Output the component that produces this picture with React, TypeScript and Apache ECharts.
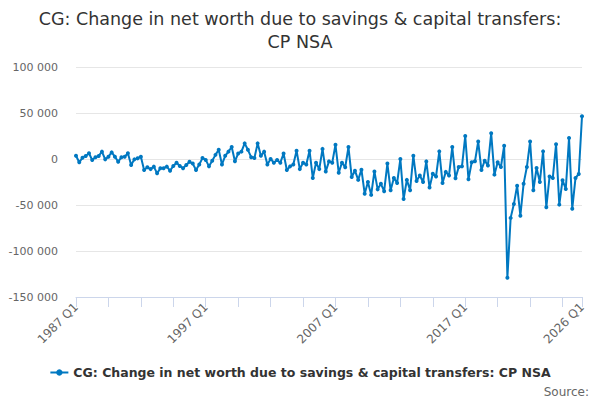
import { useEffect, useRef } from 'react';
import * as echarts from 'echarts';

/* ───── Data (quarterly, £ million) ───── */
const firstYear = 1987;
const lastYear = 2026;

const values1987to1996 = [
  3600, -3600, 1400, 3300, 6200, -1100, 1800, 3300, 8000, -400,
  2500, 7200, 2500, -2900, 1800, 2500, 6200, -6500, -400, 700,
  2500, -12000, -9000, -11000, -8300, -15600, -10000, -10000, -8300, -12700,
  -7600, -4000, -7600, -10000, -6500, -3000, -5000, -12000, -6000, 1000,
];
const values1997to2006 = [
  -1000, -8000, -2000, 4500, 10000, -6000, 3500, 8000, 13000, -2500,
  6000, 8000, 17000, 10000, 2000, 1000, 17000, 3500, 8000, -6000,
  0, -4000, -1000, -4000, 6000, -12000, -8000, -6000, 9000, -11000,
  -4000, -6000, 9000, -20600, -4000, -11000, 11000, -13500, -2600, -4000,
];
const values2007to2016 = [
  15500, -15000, -4000, -9000, 13000, -19600, -12700, -22700, -11600, -37700,
  -25000, -39000, -13500, -33000, -27000, -35000, -5000, -34000, -20600, -26000,
  0, -43500, -22700, -34000, 3600, -24000, -18000, -25000, -2600, -31000,
  -16000, -19000, 8300, -26000, -14000, -18000, 13000, -21000, -8700, -8000,
];
const values2017to2026 = [
  25000, -22000, -3600, -2500, 19000, -12000, -1800, -7000, 28000, -17000,
  -3600, -8700, 14500, -129000, -64000, -49000, -29000, -61600, -26800, -8700,
  19000, -34000, -9800, -25000, 8300, -52500, -19000, -20600, 16000, -49600,
  -23000, -32600, 22800, -54000, -20600, -16300, 46400,
];

const seriesValues = [...values1987to1996, ...values1997to2006, ...values2007to2016, ...values2017to2026];

const quarters: string[] = [];
for (let y = firstYear; y <= lastYear; y++) {
  for (let q = 1; q <= 4; q++) {
    if (y === lastYear && q > 1) break;
    quarters.push(`${y} Q${q}`);
  }
}

const seriesName = 'CG: Change in net worth due to savings & capital transfers: CP NSA';
const titleText = 'CG: Change in net worth due to savings & capital transfers:\nCP NSA';

const fmtThousands = (v: number) => {
  const s = Math.abs(v).toString().replace(/\B(?=(\d{3})+(?!\d))/g, ' ');
  return (v < 0 ? '-' : '') + s;
};

export default function App() {
  const ref = useRef<HTMLDivElement>(null);

  useEffect(() => {
    if (!ref.current) return;
    const chart = echarts.init(ref.current, undefined, { renderer: 'svg' });
    const lastIdx = quarters.length - 1;
    const font = 'DejaVu Sans, sans-serif';
    chart.setOption({
      animation: false,
      textStyle: { fontFamily: font },
      title: {
        text: titleText,
        left: 'center',
        top: 2,
        textStyle: { fontSize: 17.5, fontWeight: 'normal', color: '#333', lineHeight: 23, fontFamily: font },
      },
      grid: { left: 76, right: 18, top: 67, bottom: 103, containLabel: false },
      xAxis: {
        type: 'category',
        data: quarters,
        boundaryGap: false,
        axisLine: { show: true, onZero: false, lineStyle: { color: '#ccd6eb', width: 1 } },
        axisTick: {
          show: true,
          length: 10,
          lineStyle: { color: '#ccd6eb', width: 1 },
          interval: (i: number) => i % 10 === 0 || i === lastIdx,
        },
        axisLabel: {
          interval: (i: number) => i % 40 === 0 || i === lastIdx,
          rotate: 45,
          color: '#666',
          fontSize: 12,
          margin: 8,
          fontFamily: font,
        },
        splitLine: { show: false },
      },
      yAxis: {
        type: 'value',
        min: -150000,
        max: 100000,
        interval: 50000,
        axisLine: { show: false },
        axisTick: { show: false },
        splitLine: { lineStyle: { color: '#e6e6e6', width: 1 } },
        axisLabel: { color: '#666', fontSize: 11, margin: 18, formatter: (v: number) => fmtThousands(v), fontFamily: font },
      },
      legend: {
        bottom: 16,
        left: 'center',
        itemWidth: 18,
        itemHeight: 8,
        data: [seriesName],
        textStyle: { fontSize: 12.5, fontWeight: 'bold', color: '#333', fontFamily: font },
      },
      graphic: [
        {
          type: 'text',
          right: 11,
          top: 386,
          style: { text: 'Source:', fontSize: 12, fill: '#666', fontFamily: font },
        },
      ],
      series: [
        {
          name: seriesName,
          type: 'line',
          data: seriesValues,
          symbol: 'circle',
          symbolSize: 4,
          showAllSymbol: true,
          lineStyle: { color: '#0078c1', width: 2 },
          itemStyle: { color: '#0078c1' },
        },
      ],
    });
    return () => { chart.dispose(); };
  }, []);

  return (
    <div style={{ position: 'absolute', left: 0, top: 0, width: 600, height: 400, background: '#fff' }}>
      <div ref={ref} style={{ width: 600, height: 400 }} />
    </div>
  );
}
